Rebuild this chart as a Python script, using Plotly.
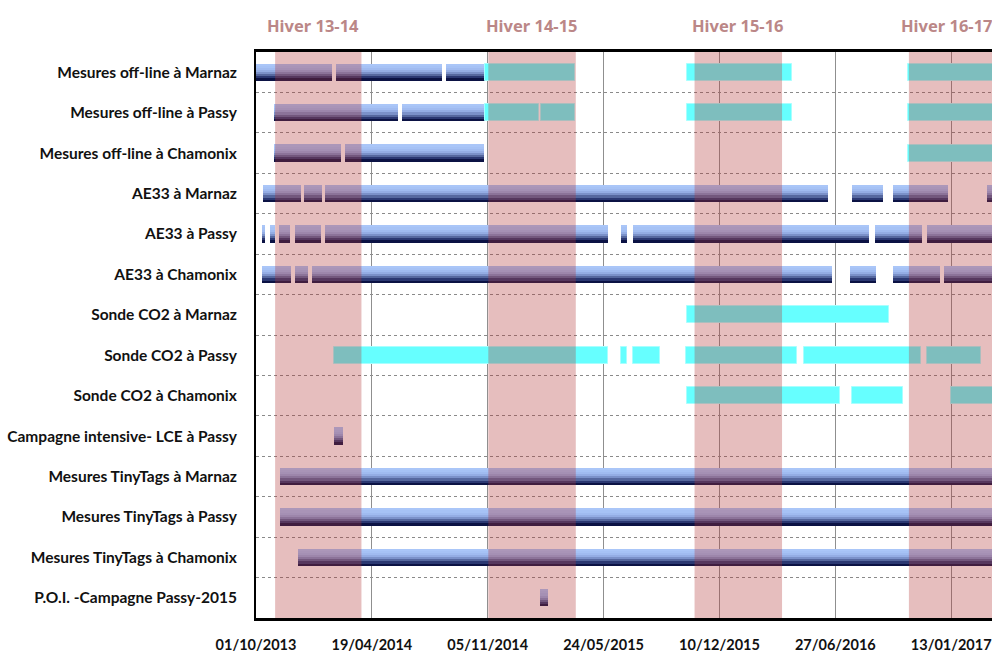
import plotly.graph_objects as go
import pandas as pd

# ---------------- data ----------------
row_labels = [
    "Mesures off-line à Marnaz", "Mesures off-line à Passy", "Mesures off-line à Chamonix",
    "AE33 à Marnaz", "AE33 à Passy", "AE33 à Chamonix",
    "Sonde CO2 à Marnaz", "Sonde CO2 à Passy", "Sonde CO2 à Chamonix",
    "Campagne intensive- LCE à Passy",
    "Mesures TinyTags à Marnaz", "Mesures TinyTags à Passy", "Mesures TinyTags à Chamonix",
    "P.O.I. -Campagne Passy-2015",
]

END = "2017-04-30"  # ongoing beyond the visible range

# instruments (blue gradient bars)
blue_rows = [0, 0, 0,
             1, 1,
             2, 2,
             3, 3, 3, 3, 3, 3,
             4, 4, 4, 4, 4, 4, 4, 4, 4,
             5, 5, 5, 5, 5, 5,
             9, 10, 11, 12, 13]
blue_starts = ["2013-10-01", "2014-02-16", "2014-08-25",
               "2013-11-01", "2014-06-10",
               "2013-11-01", "2014-03-03",
               "2013-10-13", "2013-12-22", "2014-01-28", "2016-07-26", "2016-10-05", "2017-03-16",
               "2013-10-12", "2013-10-25", "2013-11-10", "2013-12-07", "2014-01-28", "2015-06-23",
               "2015-07-14", "2016-09-04", "2016-12-02",
               "2013-10-12", "2013-12-07", "2014-01-05", "2016-07-23", "2016-10-05", "2016-12-31",
               "2014-02-13", "2013-11-11", "2013-11-11", "2013-12-12", "2015-02-03"]
blue_ends = ["2014-02-09", "2014-08-18", "2014-10-31",
             "2014-06-03", "2014-10-31",
             "2014-02-24", "2014-10-29",
             "2013-12-17", "2014-01-23", "2016-06-14", "2016-09-17", "2017-01-08", END,
             "2013-10-16", "2013-11-03", "2013-11-28", "2014-01-22", "2015-06-01", "2015-07-03",
             "2016-08-24", "2016-11-23", END,
             "2013-11-30", "2013-12-30", "2016-06-21", "2016-09-06", "2016-12-24", END,
             "2014-02-28", END, END, END, "2015-02-17"]

# cyan bars
cyan_rows = [0, 0, 0,
             1, 1, 1, 1,
             2,
             6,
             7, 7, 7, 7, 7, 7,
             8, 8, 8]
cyan_starts = ["2014-10-31", "2015-10-15", "2016-10-31",
               "2014-10-31", "2015-02-05", "2015-10-15", "2016-10-31",
               "2016-10-31",
               "2015-10-15",
               "2014-02-12", "2015-06-23", "2015-07-14", "2015-10-13", "2016-05-04", "2016-12-02",
               "2015-10-15", "2016-07-26", "2017-01-13"]
cyan_ends = ["2015-04-05", "2016-04-13", END,
             "2015-02-01", "2015-04-05", "2016-04-13", END,
             END,
             "2016-09-28",
             "2015-06-01", "2015-07-03", "2015-08-30", "2016-04-21", "2016-11-22", "2017-03-05",
             "2016-07-05", "2016-10-21", END]

# winters
winter_labels = ["Hiver 13-14", "Hiver 14-15", "Hiver 15-16", "Hiver 16-17"]
winter_starts = ["2013-11-03", "2014-11-06", "2015-10-28", "2016-11-01"]
winter_ends = ["2014-04-01", "2015-04-06", "2016-03-27", "2017-04-01"]
winter_label_shift = [-5, 0, 0, -6]  # px nudge of the labels

# x axis
tick_dates = ["2013-10-01", "2014-04-19", "2014-11-05", "2015-05-24",
              "2015-12-10", "2016-06-27", "2017-01-13"]
tick_labels = ["01/10/2013", "19/04/2014", "05/11/2014", "24/05/2015",
               "10/12/2015", "27/06/2016", "13/01/2017"]
x_range = ["2013-10-01", "2017-03-24 10:00"]

# ---------------- styles ----------------
LABEL_FONT = "Lato, Liberation Sans, sans-serif"
blue_strips = ["#aac6f8", "#a6c2f5", "#a0bbf0", "#94ade4", "#7b91c9",
               "#56689f", "#2b3872", "#0b1244"]
BAR_HALF = 0.21


def durations(starts, ends):
    s = pd.to_datetime(pd.Series(starts))
    e = pd.to_datetime(pd.Series(ends))
    return ((e - s).dt.total_seconds() * 1000).tolist()


fig = go.Figure()

# blue gradient bars: stacked horizontal strips
blue_dur = durations(blue_starts, blue_ends)
n = len(blue_strips)
strip_h = 2 * BAR_HALF / n
for k, col in enumerate(blue_strips):
    dy = -BAR_HALF + (k + 0.5) * strip_h
    fig.add_trace(go.Bar(
        orientation="h",
        y=[r + dy for r in blue_rows],
        x=blue_dur,
        base=blue_starts,
        width=strip_h * 1.15,
        marker=dict(color=col, line=dict(width=0)),
        hoverinfo="skip",
        showlegend=False,
    ))

# cyan bars
fig.add_trace(go.Bar(
    orientation="h",
    y=cyan_rows,
    x=durations(cyan_starts, cyan_ends),
    base=cyan_starts,
    width=2 * BAR_HALF,
    marker=dict(color="#66ffff", line=dict(color="#a8ffff", width=1)),
    hoverinfo="skip",
    showlegend=False,
))

# winter shading + labels
for lab, ws, we, sh in zip(winter_labels, winter_starts, winter_ends, winter_label_shift):
    fig.add_shape(type="rect", xref="x", yref="paper", x0=ws, x1=we, y0=0, y1=1,
                  fillcolor="rgba(178,52,52,0.32)", line=dict(width=0), layer="above")
    mid = pd.to_datetime(ws) + (pd.to_datetime(we) - pd.to_datetime(ws)) / 2
    fig.add_annotation(x=mid.strftime("%Y-%m-%d %H:%M"), xref="x", y=1.046, yref="paper",
                       xshift=sh,
                       text=lab, showarrow=False, xanchor="center", yanchor="middle",
                       font=dict(family="Noto Sans, sans-serif", size=16.5, color="#bb8787",
                                 weight="bold"))

fig.update_layout(
    width=992, height=656,
    margin=dict(l=256, r=0, t=52, b=38, autoexpand=False),
    paper_bgcolor="white", plot_bgcolor="white",
    barmode="overlay",
    bargap=0,
    showlegend=False,
)

fig.update_xaxes(
    type="date", range=x_range, automargin=False,
    tickmode="array", tickvals=tick_dates, ticktext=tick_labels,
    showgrid=True, gridcolor="#8f8f8f", gridwidth=1,
    showline=True, linecolor="black", linewidth=3, mirror=True,
    ticks="outside", ticklen=12, tickcolor="rgba(0,0,0,0)",
    tickfont=dict(family=LABEL_FONT, size=14.5, color="#111111", weight="bold"),
    zeroline=False,
)

fig.update_yaxes(
    range=[13.5, -0.5], automargin=False,
    tickmode="array", tickvals=list(range(len(row_labels))), ticktext=row_labels,
    showgrid=False,
    minor=dict(tickvals=[i + 0.5 for i in range(len(row_labels) - 1)],
               showgrid=True, gridcolor="#8a8a8a", griddash="dot", gridwidth=1,
               ticks=""),
    showline=True, linecolor="black", linewidth=2, mirror=False,
    ticks="outside", ticklen=14, tickcolor="rgba(0,0,0,0)",
    tickfont=dict(family=LABEL_FONT, size=15.5, color="#111111", weight="bold"),
    zeroline=False,
)

# remove the default page margin so the 992x656 figure fills the window exactly
fig.write_html(
    "out.html",
    config={"displayModeBar": False},
    post_script="document.body.style.margin='0px';document.body.style.overflow='hidden';",
)
